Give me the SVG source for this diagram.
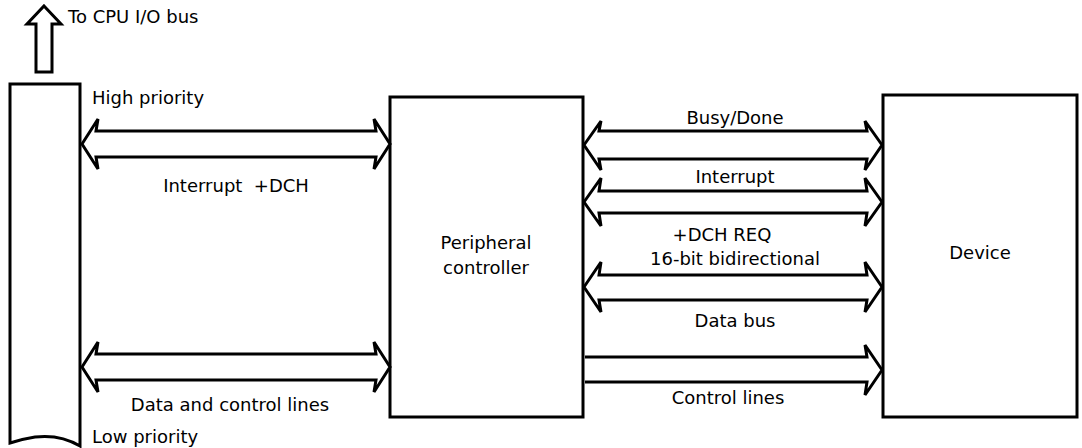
<svg xmlns="http://www.w3.org/2000/svg" width="1082" height="448" viewBox="0 0 1082 448">
<style>
.s{fill:#fff;stroke:#000;stroke-width:3;stroke-linejoin:miter}
.t{font-family:"DejaVu Sans",sans-serif;font-size:18px;fill:#000;white-space:pre}
.m{text-anchor:middle}
</style>
<rect width="1082" height="448" fill="#fff"/>
<g id="cpu-arrow">
<path class="s" d="M44,6 L61,24 L52,24 L52,72 L36,72 L36,24 L27,24 Z"/>
<text class="t" x="68" y="23">To CPU I/O bus</text>
</g>
<g id="io-bus">
<path class="s" d="M10,84 L80,84 L80,446 Q60,434 35,437 Q22,439 10,443 Z"/>
<text class="t" x="92" y="104">High priority</text>
<text class="t" x="92" y="443">Low priority</text>
</g>
<g id="peripheral-controller">
<rect class="s" x="390" y="97" width="193" height="320"/>
<text class="t m" x="486" y="249">Peripheral</text>
<text class="t m" x="486" y="274">controller</text>
</g>
<g id="device">
<rect class="s" x="883" y="95" width="194" height="322"/>
<text class="t m" x="980" y="259">Device</text>
</g>
<g id="connectors">
<path class="s" d="M82,144 L98,119 L96,131 L376,131 L374,119 L390,144 L374,169 L376,157 L96,157 L98,169 Z"/>
<path class="s" d="M82,367 L98,342 L96,354 L376,354 L374,342 L390,367 L374,392 L376,380 L96,380 L98,392 Z"/>
<path class="s" d="M584,145 L601,121 L599,131 L867,131 L865,121 L882,145 L865,170 L867,159 L599,159 L601,170 Z"/>
<path class="s" d="M584,202 L601,178 L599,191 L867,191 L865,178 L882,202 L865,226 L867,213 L599,213 L601,226 Z"/>
<path class="s" d="M584,287 L601,262 L599,275 L867,275 L865,262 L882,287 L865,312 L867,300 L599,300 L601,312 Z"/>
<path class="s" d="M585,357 L867,357 L865,345 L882,370 L865,395 L867,382 L585,382"/>
<text class="t m" x="236" y="192">Interrupt  +DCH</text>
<text class="t m" x="230" y="411">Data and control lines</text>
<text class="t m" x="735" y="124">Busy/Done</text>
<text class="t m" x="735" y="183">Interrupt</text>
<text class="t m" x="722" y="241">+DCH REQ</text>
<text class="t m" x="735" y="265">16-bit bidirectional</text>
<text class="t m" x="735" y="327">Data bus</text>
<text class="t m" x="728" y="404">Control lines</text>
</g>
</svg>
